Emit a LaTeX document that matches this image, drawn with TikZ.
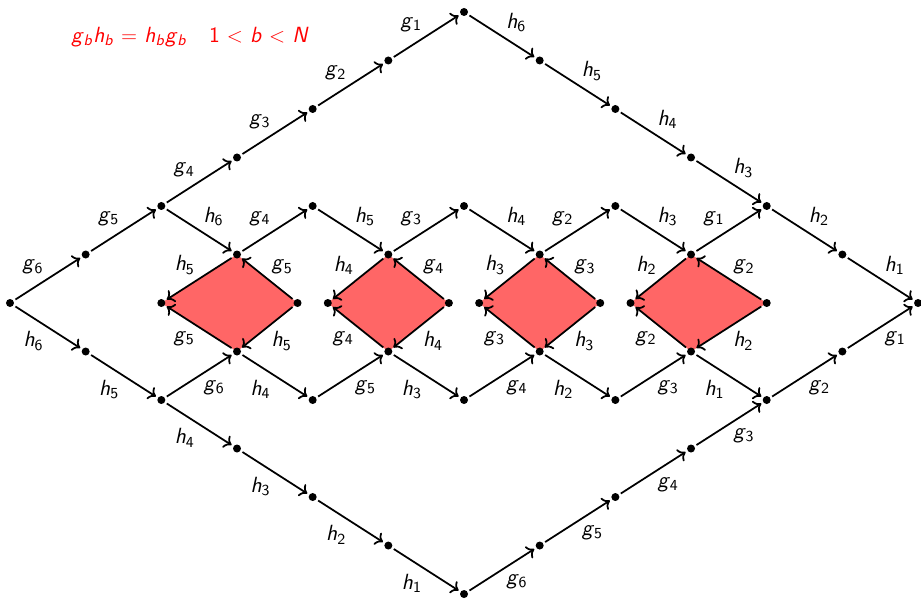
\documentclass[tikz,border=0pt]{standalone}
\usepackage{tikz}
\usetikzlibrary{arrows.meta, backgrounds}
\colorlet{dFill}{red!60}
\newcommand{\gen}[2]{\textit{#1}\textsubscript{#2}}

\begin{document}
\begin{tikzpicture}[
  x=1.5133cm, y=0.97cm,
  every node/.style={font=\sffamily\fontsize{12.5}{15}\selectfont},
  dot/.style={circle, fill=black, inner sep=0pt, minimum size=1.6mm, outer sep=1.4pt},
  arr/.style={-{To[length=4pt, width=8pt]}, line width=1pt},
  lab/.style={auto, inner sep=2pt},
  labs/.style={auto, swap, inner sep=2pt}]
  \useasboundingbox (-0.132,-6.206) rectangle (12.039,6.247);
  % corners of the big diamond
  \node[dot] (L) at (0,0) {};
  \node[dot] (R) at (12,0) {};
  \node[dot] (T) at (6,6) {};
  \node[dot] (B) at (6,-6) {};
  % outer paths
  \foreach \i in {1,...,5} {
    \node[dot] (ul\i) at (\i,\i) {};
    \node[dot] (ur\i) at (6+\i,6-\i) {};
    \node[dot] (dl\i) at (\i,-\i) {};
    \node[dot] (dr\i) at (6+\i,-6+\i) {};
  }
  % inner zig-zags
  \foreach \i/\h in {3/1, 4/2, 5/1, 6/2, 7/1, 8/2, 9/1} {
    \node[dot] (it\i) at (\i,\h) {};
    \node[dot] (ib\i) at (\i,-\h) {};
  }
  % side corners of the squares
  \foreach \k/\l/\r in {1/2/3.8, 2/4.2/5.8, 3/6.2/7.8, 4/8.2/10} {
    \node[dot] (ml\k) at (\l,0) {};
    \node[dot] (mr\k) at (\r,0) {};
  }
  % relation
  \node[text=red] (rel) at (2.38,5.49)
    {\gen{g}{\textit{b}}\gen{h}{\textit{b}} $=$ \gen{h}{\textit{b}}\gen{g}{\textit{b}}\hspace{1em}1 $<$ \textit{b} $<$ \textit{N}};
  % outer arrows
  \foreach \a/\b/\n in {L/ul1/6, ul1/ul2/5, ul2/ul3/4, ul3/ul4/3, ul4/ul5/2, ul5/T/1}
    \draw[arr] (\a) -- node[lab] {\gen{g}{\n}} (\b);
  \foreach \a/\b/\n in {T/ur1/6, ur1/ur2/5, ur2/ur3/4, ur3/ur4/3, ur4/ur5/2, ur5/R/1}
    \draw[arr] (\a) -- node[lab] {\gen{h}{\n}} (\b);
  \foreach \a/\b/\n in {L/dl1/6, dl1/dl2/5, dl2/dl3/4, dl3/dl4/3, dl4/dl5/2, dl5/B/1}
    \draw[arr] (\a) -- node[labs] {\gen{h}{\n}} (\b);
  \foreach \a/\b/\n in {B/dr1/6, dr1/dr2/5, dr2/dr3/4, dr3/dr4/3, dr4/dr5/2, dr5/R/1}
    \draw[arr] (\a) -- node[labs] {\gen{g}{\n}} (\b);
  % inner arrows
  \foreach \a/\b/\s/\n in {ul2/it3/h/6, it3/it4/g/4, it4/it5/h/5, it5/it6/g/3,
                           it6/it7/h/4, it7/it8/g/2, it8/it9/h/3, it9/ur4/g/1}
    \draw[arr] (\a) -- node[lab] {\gen{\s}{\n}} (\b);
  \foreach \a/\b/\s/\n in {dl2/ib3/g/6, ib3/ib4/h/4, ib4/ib5/g/5, ib5/ib6/h/3,
                           ib6/ib7/g/4, ib7/ib8/h/2, ib8/ib9/g/3, ib9/dr4/h/1}
    \draw[arr] (\a) -- node[labs] {\gen{\s}{\n}} (\b);
  % commuting squares
  \foreach \k/\i/\n in {1/3/5, 2/5/4, 3/7/3, 4/9/2} {
    \begin{scope}[on background layer]
      \fill[dFill] (ml\k.center) -- (it\i.center) -- (mr\k.center) -- (ib\i.center) -- cycle;
    \end{scope}
    \draw[arr] (mr\k) -- node[labs] {\gen{g}{\n}} (it\i);
    \draw[arr] (it\i) -- node[labs] {\gen{h}{\n}} (ml\k);
    \draw[arr] (mr\k) -- node[lab] {\gen{h}{\n}} (ib\i);
    \draw[arr] (ib\i) -- node[lab] {\gen{g}{\n}} (ml\k);
  }
\end{tikzpicture}
\end{document}
